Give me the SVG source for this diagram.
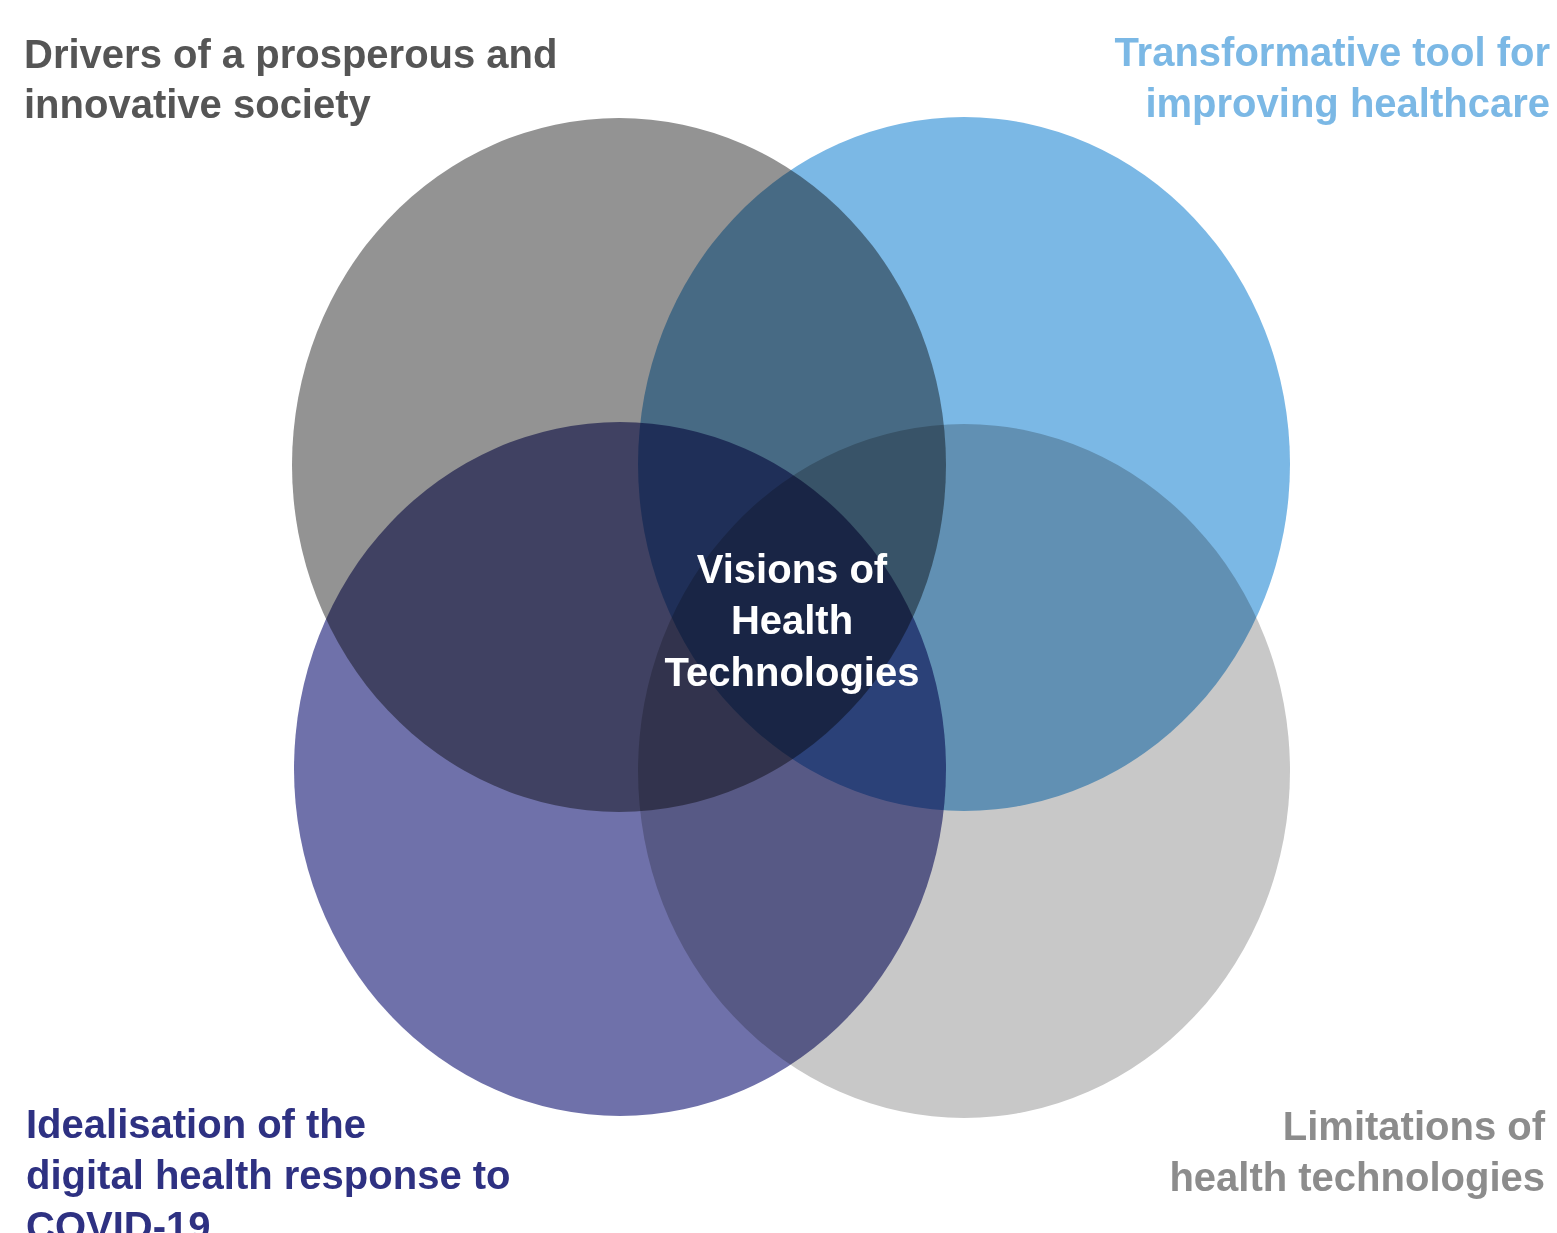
<svg xmlns="http://www.w3.org/2000/svg" width="1557" height="1233" viewBox="0 0 1557 1233">
<style>
.c{mix-blend-mode:multiply}
text{font-family:"Liberation Sans",Arial,sans-serif;font-weight:bold;font-size:40px}
</style>
<rect width="1557" height="1233" fill="#ffffff"/>
<g id="circles" style="isolation:isolate">
<g id="drivers"><ellipse class="c" cx="619" cy="465" rx="327" ry="347" fill="#939393"/></g>
<g id="transformative"><ellipse class="c" cx="964" cy="464" rx="326" ry="347" fill="#7BB8E5"/></g>
<g id="idealisation"><ellipse class="c" cx="620" cy="769" rx="326" ry="347" fill="#6F71AA"/></g>
<g id="limitations"><ellipse class="c" cx="964" cy="771" rx="326" ry="347" fill="#C8C8C8"/></g>
</g>
<g id="connectors"/>
<g id="labels">
<text x="24" y="68" fill="#555555"><tspan x="24">Drivers of a prosperous and</tspan><tspan x="24" y="118">innovative society</tspan></text>
<text x="1550" y="66" fill="#7BB8E5" text-anchor="end"><tspan x="1550">Transformative tool for</tspan><tspan x="1550" y="117">improving healthcare</tspan></text>
<text x="26" y="1138" fill="#2E3182"><tspan x="26">Idealisation of the</tspan><tspan x="26" y="1189">digital health response to</tspan><tspan x="26" y="1240">COVID-19</tspan></text>
<text x="1545" y="1140" fill="#8C8C8C" text-anchor="end"><tspan x="1545">Limitations of</tspan><tspan x="1545" y="1191">health technologies</tspan></text>
<text x="792" y="583" fill="#ffffff" text-anchor="middle"><tspan x="792">Visions of</tspan><tspan x="792" y="634">Health</tspan><tspan x="792" y="686">Technologies</tspan></text>
</g>
</svg>
